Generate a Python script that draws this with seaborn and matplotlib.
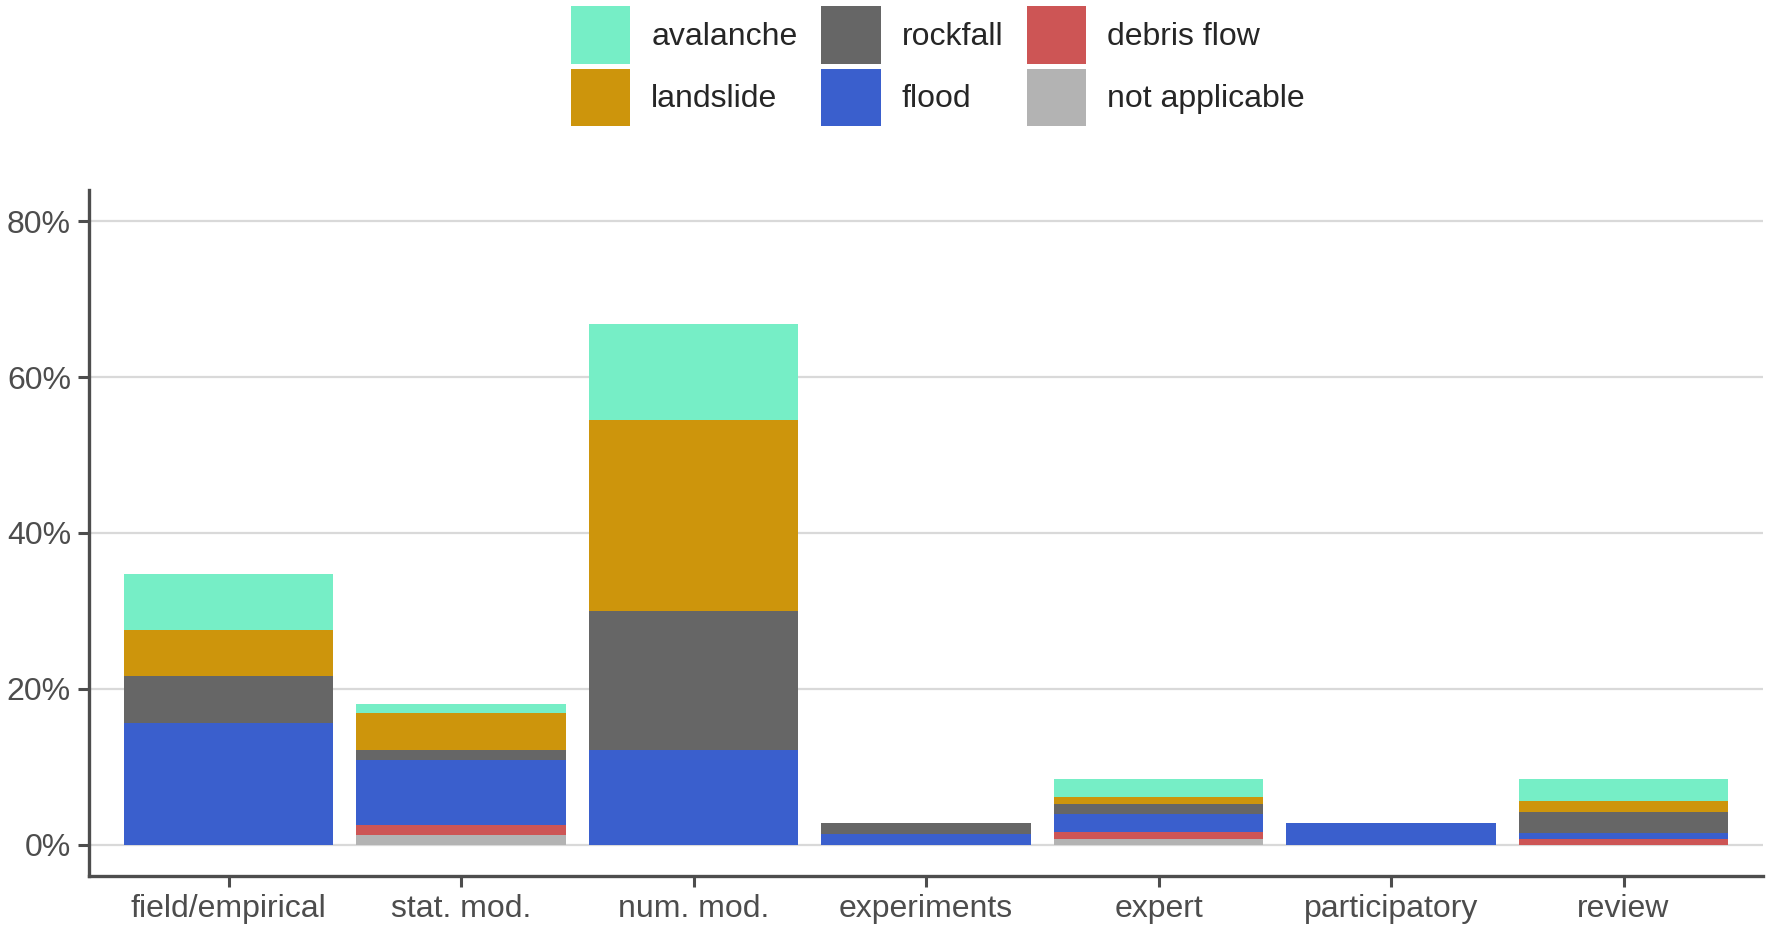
import numpy as np
import pandas as pd
import matplotlib
matplotlib.use("Agg")
import matplotlib.pyplot as plt
import seaborn as sns

# categories (x axis) and hazard shares in percent
methods = ["field/empirical", "stat. mod.", "num. mod.", "experiments",
           "expert", "participatory", "review"]
not_applicable = [0.0, 1.3, 0.0, 0.0, 0.8, 0.0, 0.0]
debris_flow = [0.0, 1.2, 0.0, 0.0, 0.8, 0.0, 0.8]
flood = [15.6, 8.4, 12.2, 1.4, 2.3, 2.8, 0.7]
rockfall = [6.0, 1.2, 17.8, 1.4, 1.4, 0.0, 2.7]
landslide = [6.0, 4.8, 24.5, 0.0, 0.8, 0.0, 1.4]
avalanche = [7.1, 1.2, 12.3, 0.0, 2.3, 0.0, 2.8]

yticks = [0, 20, 40, 60, 80]

# stacking order from the bottom up
layers = [
    ("not applicable", not_applicable, "#B3B3B3"),
    ("debris flow", debris_flow, "#CD5555"),
    ("flood", flood, "#3A5FCD"),
    ("rockfall", rockfall, "#666666"),
    ("landslide", landslide, "#CD950C"),
    ("avalanche", avalanche, "#76EEC6"),
]

df = pd.DataFrame({"method": methods})
cum = np.zeros(len(methods))
for name, vals, _ in layers:
    cum = cum + np.array(vals)
    df[name] = cum

sns.set_style("white")
plt.rcParams["font.family"] = ["Liberation Sans", "DejaVu Sans"]

fig, ax = plt.subplots(figsize=(17.72, 9.31), dpi=100)
fig.subplots_adjust(left=89 / 1772, right=1763 / 1772,
                    top=1 - 190 / 931, bottom=1 - 876 / 931)

# draw cumulative totals from the top layer down so each covers the next
for name, _, color in reversed(layers):
    sns.barplot(data=df, x="method", y=name, color=color, width=0.9,
                saturation=1, label=name, ax=ax, linewidth=0)

if ax.get_legend() is not None:
    ax.get_legend().remove()

ax.set_xlim(-0.6, len(methods) - 0.4)
ax.set_ylim(-4, 84)
ax.set_yticks(yticks)
ax.set_yticklabels([f"{v}%" for v in yticks])
ax.set_xlabel("")
ax.set_ylabel("")

ax.yaxis.grid(True, color="#D9D9D9", linewidth=1.6)
ax.xaxis.grid(False)
ax.set_axisbelow(True)

for side in ["top", "right"]:
    ax.spines[side].set_visible(False)
for side in ["left", "bottom"]:
    ax.spines[side].set_color("#4D4D4D")
    ax.spines[side].set_linewidth(2.4)
ax.tick_params(axis="both", length=8, width=2.2, color="#4D4D4D",
               labelsize=23, labelcolor="#4D4D4D", pad=5, bottom=True, left=True)

handles, labels = ax.get_legend_handles_labels()
fig.legend(handles, labels, ncol=3, loc="upper center",
           bbox_to_anchor=(938 / 1772, 1 - 6 / 931), frameon=False,
           fontsize=23, handlelength=1.85, handleheight=2.4,
           labelspacing=0.16, columnspacing=0.75, handletextpad=0.66,
           borderaxespad=0, borderpad=0)

fig.savefig("out.png", dpi=100)
